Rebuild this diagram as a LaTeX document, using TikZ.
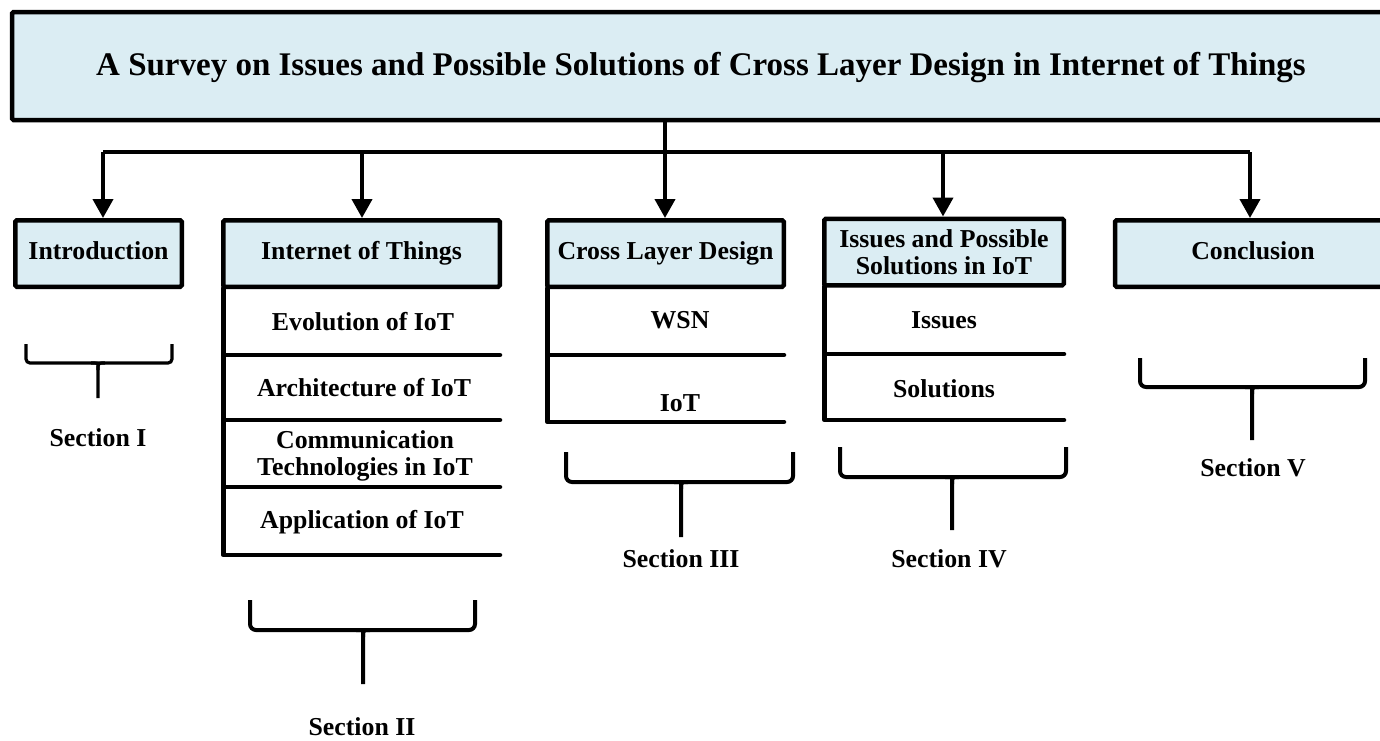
\documentclass[tikz,border=0pt]{standalone}
\usepackage{fontspec}
\setmainfont{Liberation Serif}
\usetikzlibrary{arrows.meta}
\definecolor{hdrblue}{RGB}{219,237,243}

% bracket under a section column: left, right, top, bar level, stem x, stem end
\newcommand\drawbrace[6]{%
  \draw[brace] (#1,#3) -- (#1,#4) -- (#2,#4) -- (#2,#3);
  \draw[brace] (#5-7,#4) .. controls (#5,#4) .. (#5,#4+7) -- (#5,#6);
  \draw[brace] (#5+7,#4) .. controls (#5,#4) .. (#5,#4+7);
}

\begin{document}
\begin{tikzpicture}[x=1pt, y=-1pt,
  txt/.style={font=\bfseries\fontsize{25.8}{27}\selectfont, inner sep=0pt, align=center},
  hdr/.style={txt, draw, line width=4.5pt, fill=hdrblue, rounded corners=1.5pt,
              minimum height=66.5pt},
  hdrone/.style={hdr, text height=17.5pt, text depth=5.5pt},
  rowtxt/.style={txt, anchor=base},
  rowline/.style={line width=4.5pt, line cap=round, line join=round},
  bus/.style={line width=4pt, line cap=square},
  link/.style={line width=4pt, -{Triangle[length=19pt,width=20pt]}},
  brace/.style={line width=4pt, rounded corners=6pt}]

\useasboundingbox (0,0) rectangle (1380,740);
\clip (0,0) rectangle (1380,740);

% title bar
\node[hdr, minimum width=1378pt, minimum height=108pt,
      text height=24pt, text depth=6pt,
      font=\bfseries\fontsize{33}{35}\selectfont] (title) at (701,66)
  {A Survey on Issues and Possible Solutions of Cross Layer Design in Internet of Things};

% section headers
\node[hdrone, minimum width=166.5pt] (intro) at (98.5,253.5) {Introduction};
\node[hdrone, minimum width=276.5pt] (iot)   at (361.5,253.5) {Internet of Things};
\node[hdrone, minimum width=236.5pt] (cld)   at (665.5,253.5) {Cross Layer Design};
\node[hdr,    minimum width=239.5pt] (iss)   at (944,252) {Issues and Possible\\Solutions in IoT};
\node[hdrone, minimum width=276pt]   (concl) at (1253,253.5) {Conclusion};

% distribution bus
\coordinate (bI)   at (103,152);
\coordinate (bII)  at (362,152);
\coordinate (bIII) at (665,152);
\coordinate (bIV)  at (943,152);
\coordinate (bV)   at (1250,152);
\draw[bus] (title.south -| bIII) -- (bIII);
\draw[bus] (bI) -- (bV);
\draw[link] (bI)   -- (bI |- intro.north);
\draw[link] (bII)  -- (bII |- iot.north);
\draw[link] (bIII) -- (bIII |- cld.north);
\draw[link] (bIV)  -- (bIV |- iss.north);
\draw[link] (bV)   -- (bV |- concl.north);

% Internet of Things rows
\draw[rowline] (223.25,288) |- (500,555);
\foreach \yy in {355,420,487} \draw[rowline] (223.25,\yy) -- (500,\yy);
\node[rowtxt] (evo)  at (363,330.5) {Evolution of IoT};
\node[rowtxt] (arch) at (364,396.5) {Architecture of IoT};
\node[txt]    (comm) at (365,456)   {Communication\\Technologies in IoT};
\node[rowtxt] (app)  at (362,528.5) {Application of IoT};

% Cross Layer Design rows
\draw[rowline] (547.5,288) |- (784,422);
\draw[rowline] (547.5,355) -- (784,355);
\node[rowtxt] (wsn)  at (680,328.5) {WSN};
\node[rowtxt] (ciot) at (680,411.5) {IoT};

% Issues and Solutions rows
\draw[rowline] (824.5,286) |- (1064,420);
\draw[rowline] (824.5,354) -- (1064,354);
\node[rowtxt] (issues) at (944,328.5) {Issues};
\node[rowtxt] (sols)   at (944,397.5) {Solutions};

% section brackets and labels
\begin{scope}[brace/.append style={line width=3.2pt, rounded corners=4pt}]
  \drawbrace{26}{172}{344}{363}{98}{398}
\end{scope}
\drawbrace{250}{475}{600}{630}{363}{684}
\drawbrace{566}{793}{452}{482}{681}{537}
\drawbrace{840}{1066}{447}{477}{952}{530}
\drawbrace{1140}{1365}{358}{387}{1252}{440}

\node[rowtxt] (sI)   at (98,446.5)   {Section I};
\node[rowtxt] (sII)  at (362,735)    {Section II};
\node[rowtxt] (sIII) at (681,567.5)  {Section III};
\node[rowtxt] (sIV)  at (949,567.5)  {Section IV};
\node[rowtxt] (sV)   at (1253,476.5) {Section V};

\end{tikzpicture}
\end{document}
